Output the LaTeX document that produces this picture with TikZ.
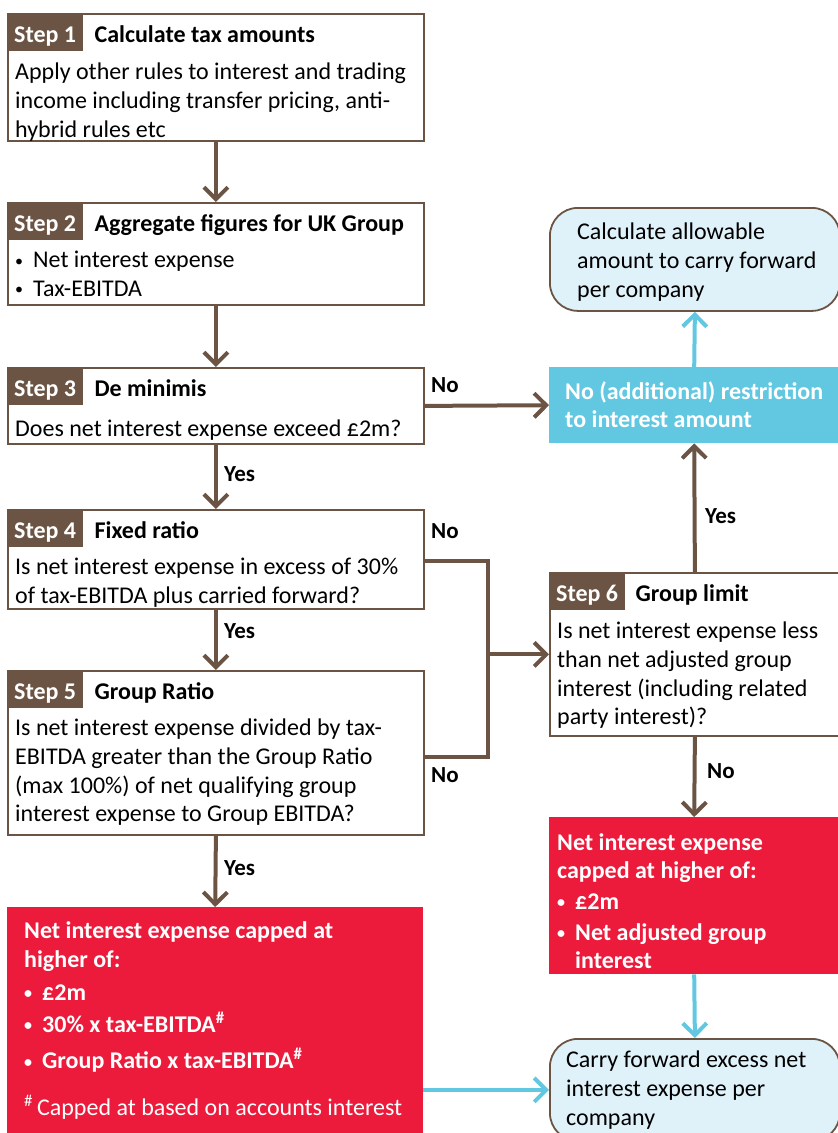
\documentclass[tikz,border=0pt]{standalone}
\usepackage{fontspec}
\setmainfont{Carlito}
\usetikzlibrary{positioning,arrows.meta}

\definecolor{brun}{RGB}{107,84,67}
\definecolor{rouge}{RGB}{237,27,59}
\definecolor{ciel}{RGB}{98,200,226}
\definecolor{pale}{RGB}{223,242,250}
\newcommand{\corps}{\fontsize{24pt}{28.7pt}\selectfont}
\newcommand{\puce}{\makebox[18pt][l]{\raisebox{1.5pt}{\fontsize{16pt}{16pt}\selectfont\textbullet}}}

\begin{document}
\begin{tikzpicture}
                    [x=1pt,y=-1pt,font=\corps,
                    box/.style={draw=brun,line width=1.8pt,fill=white,anchor=north west,minimum width=416pt,inner sep=0pt},
                    rbox/.style={box,minimum width=290pt},
                    bulle/.style={rbox,fill=pale,rounded corners=28pt},
                    plein/.style={anchor=north west,inner sep=0pt,fill=#1},
                    tag/.style={fill=brun,text=white,font=\corps\bfseries,anchor=north west,minimum width=76pt,text height=29pt,text depth=9pt,inner xsep=0pt,inner ysep=0pt},
                    titre/.style={font=\corps\bfseries,inner sep=0pt},
                    txt/.style={anchor=north west,align=left,inner sep=0pt,yshift=-5pt,execute at begin node=\strut},
                    wtxt/.style={txt,font=\corps\bfseries,text=white},
                    lab/.style={font=\fontsize{23pt}{27pt}\selectfont\bfseries,anchor=base west,inner sep=0pt},
                    fl/.style={draw=brun,line width=4pt,-{Straight Barb[length=12pt,width=24pt]}},
                    flb/.style={fl,draw=ciel}]
                    
                    \useasboundingbox (0,0) rectangle (838,1133);
                    
                    % Step 1
                    \node [box,minimum height=127pt] (s1) at (7,13) {}; \node [tag] (t1) at (s1.north west) {Step 1};
                    \node [titre,right=11pt of t1.base east,anchor=base west] (h1) {Calculate tax amounts};
                    \node [txt] (b1) at (15,58) {Apply other rules to interest and trading\\income including transfer pricing, anti-\\hybrid rules etc};
                    
                    % Step 2
                    \node [box,minimum height=102pt] (s2) at (7,202) {}; \node [tag] (t2) at (s2.north west) {Step 2};
                    \node [titre,right=11pt of t2.base east,anchor=base west] (h2) {Aggregate figures for UK Group};
                    \node [txt] (b2) at (15,246) {\puce Net interest expense\\\puce Tax-EBITDA};
                    
                    % Step 3
                    \node [box,minimum height=76pt] (s3) at (7,367) {}; \node [tag] (t3) at (s3.north west) {Step 3};
                    \node [titre,right=11pt of t3.base east,anchor=base west] (h3) {De minimis};
                    \node [txt] (b3) at (15,411) {Does net interest expense exceed £2m?};
                    
                    % Step 4
                    \node [box,minimum height=99pt] (s4) at (7,509) {}; \node [tag] (t4) at (s4.north west) {Step 4};
                    \node [titre,right=11pt of t4.base east,anchor=base west] (h4) {Fixed ratio};
                    \node [txt] (b4) at (15,553) {Is net interest expense in excess of 30\%\\of tax-EBITDA plus carried forward?};
                    
                    % Step 5
                    \node [box,minimum height=164pt] (s5) at (7,670) {}; \node [tag] (t5) at (s5.north west) {Step 5};
                    \node [titre,right=11pt of t5.base east,anchor=base west] (h5) {Group Ratio};
                    \node [txt] (b5) at (15,714) {Is net interest expense divided by tax-\\EBITDA greater than the Group Ratio\\(max 100\%) of net qualifying group\\interest expense to Group EBITDA?};
                    
                    % Step 6
                    \node [rbox,minimum height=163pt] (s6) at (549,572) {}; \node [tag] (t6) at (s6.north west) {Step 6};
                    \node [titre,right=10pt of t6.base east,anchor=base west] (h6) {Group limit};
                    \node [txt] (b6) at (557,617) {Is net interest expense less\\than net adjusted group\\interest (including related\\party interest)?};
                    
                    % Results
                    \node [bulle,minimum height=103pt] (calc) at (549,207) {};
                    \node [txt] (calct) at (577,218) {Calculate allowable\\amount to carry forward\\per company};
                    \node [plein=ciel,minimum width=290pt,minimum height=76pt] (nores) at (549,367) {};
                    \node [wtxt] (norest) at (565,376) {No (additional) restriction\\to interest amount};
                    \node [plein=rouge,minimum width=290pt,minimum height=157pt] (capR) at (549,817) {};
                    \node [wtxt] (capRt) at (557,828) {Net interest expense\\capped at higher of:\\[2pt]\puce £2m\\[2pt]\puce Net adjusted group\\\hspace*{18pt}interest};
                    \node [plein=rouge,minimum width=416pt,minimum height=240pt] (capL) at (7,907) {};
                    \node [wtxt] (capLt) at (24,916) {Net interest expense capped at\\[1pt]higher of:\\[4pt]\puce £2m\\[3pt]\puce 30\% x tax-EBITDA\textsuperscript{\#}\\[8pt]\puce Group Ratio x tax-EBITDA\textsuperscript{\#}\\[18pt]{\mdseries\textsuperscript{\#}\,Capped at based on accounts interest}};
                    \node [bulle,minimum height=102pt] (carry) at (549,1038) {};
                    \node [txt] (carryt) at (566,1046) {Carry forward excess net\\interest expense per\\company};
                    
                    % Arrows
                    \draw [fl] (s1.south) -- (s2.north); \draw [fl] (s2.south) -- (s3.north);
                    \draw [fl] (s3.south) -- (s4.north); \draw [fl] (s4.south) -- (s5.north); \draw [fl] (s5.south) -- (capL.north);
                    \draw [fl] (s3.east) -- (nores.west);
                    \coordinate (j4) at (488,561); \coordinate (j5) at (488,757);
                    \draw [brun,line width=4pt] (s4.east|-j4) -- (j4) -- (j5) -- (s5.east|-j5);
                    \draw [fl] (j4|-s6.west) -- (s6.west);
                    \draw [fl] (s6.north) -- (nores.south); \draw [fl] (s6.south) -- (capR.north);
                    \draw [flb] (nores.north) -- (calc.south); \draw [flb] (capR.south) -- (carry.north);
                    \draw [flb] (capL.east|-carry.west) -- (carry.west);
                    
                    % Labels
                    \node [lab] (n3) at (431,392) {No}; \node [lab] (n4) at (431,538) {No}; \node [lab] (n5) at (431,782) {No};
                    \node [lab] (y34) at (224,481) {Yes}; \node [lab] (y45) at (224,638) {Yes}; \node [lab] (y5) at (224,875) {Yes};
                    \node [lab] (y6) at (705,523) {Yes}; \node [lab] (n6) at (707,778) {No};
                \end{tikzpicture}
\end{document}
